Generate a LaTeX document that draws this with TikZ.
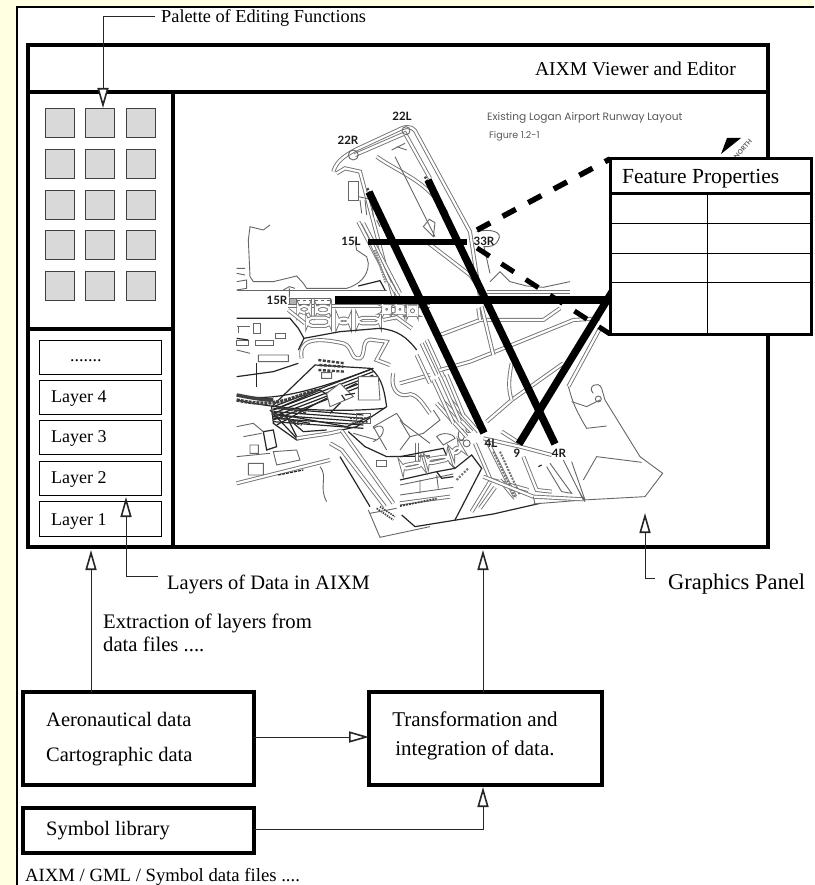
\documentclass[tikz,border=0pt]{standalone}
\usepackage{fontspec}
\setmainfont{Liberation Serif}
\newfontfamily\mapfont{Lato}
\newfontfamily\geofont{Poppins}
\usetikzlibrary{arrows.meta}
\newcommand{\fs}[1]{\fontsize{#1}{#1}\selectfont}
\definecolor{pagey}{HTML}{FFFFE1}
\tikzset{
  frame/.style={draw=black,line width=4pt,fill=white,inner sep=0pt,outer sep=0pt,anchor=north west},
  cell/.style={draw=black!75,line width=1.2pt,fill=black!15,minimum width=29pt,minimum height=29pt,inner sep=0pt,anchor=north west},
  layerbox/.style={draw=black,line width=1pt,fill=white,minimum width=122pt,inner sep=0pt,anchor=north west},
  lbl/.style={anchor=base west,inner sep=0pt,font=\fs{20.5}},
  layertxt/.style={anchor=base west,inner sep=0pt,font=\fs{18}},
  conn/.style={draw=black!85,line width=1pt,-{Triangle[length=20pt,width=11pt,fill=white,line width=1.6pt]}},
  rw/.style={draw=black,line width=7.5pt},
  rwthin/.style={draw=black,line width=5.5pt},
  tw/.style={draw=black!55,line width=.9pt,double=white,double distance=2.2pt},
  thin/.style={draw=black!60,line width=.9pt},
  dk/.style={draw=black!85,line width=1.2pt},
  hatch/.style={draw=black!75,line width=2.4pt},
  maplbl/.style={inner sep=0pt,font=\mapfont\bfseries\fs{11.5},text=black!90},
  z7/.style={shift={(330,100)},x=.3333pt,y=-.3333pt},
  z8/.style={shift={(440,300)},x=.3333pt,y=-.3333pt},
  z3/.style={shift={(230,300)},x=.3333pt,y=-.3333pt},
  z9/.style={shift={(400,400)},x=.3333pt,y=-.3333pt},
  z10/.style={shift={(230,220)},x=.3333pt,y=-.3333pt},
}
\begin{document}
\begin{tikzpicture}[x=1pt,y=-1pt]
\useasboundingbox (0,0) rectangle (814,885);
\fill[pagey] (0,0) rectangle (814,885);
\fill[white] (17,7) rectangle (814,885);
\draw[black,line width=1.8pt] (814,7) -- (17,7) -- (17,885);

% main window
\node[frame,minimum width=740pt,minimum height=502pt] (main) at (28,45) {};
\draw[line width=4pt] (28,92) coordinate (tl) -- (768,92) coordinate (tr);
\draw[line width=4pt] (173,92) -- (173,547);
\draw[line width=4pt] (28,329) -- (173,329);
\node[anchor=base east,inner sep=0pt,font=\fs{19.6}] (title) at (736,76) {AIXM Viewer and Editor};

% MAP ---------------------------------------------------------------
\begin{scope}[z7]
 \draw[tw] (10,215) .. controls (20,180) and (50,165) .. (75,150) -- (215,85) .. controls (240,75) and (255,85) .. (262,105) -- (420,395) -- (450,590);
 \draw[tw] (20,220) -- (45,205) -- (90,215) -- (190,590);
 \draw[tw] (75,165) -- (225,100) -- (300,235);
 \draw[tw] (140,170) .. controls (210,220) and (290,240) .. (350,340);
 \draw[tw] (290,425) -- (420,525) -- (460,580);
 \draw[tw] (130,435) -- (205,590);
 \draw[thin] (195,170) -- (280,340) -- (315,410);
 \draw[thin] (280,380) -- (298,358) -- (315,368) -- (310,410) -- cycle;
 \draw[thin] (55,245) rectangle (85,300);
 \draw[thin] (85,290) -- (130,300) (90,300) -- (95,340) (105,300) -- (110,345) (125,310) -- (130,350) (140,360) -- (150,380);
 \draw[thin] (440,395) .. controls (480,385) and (520,395) .. (505,420) .. controls (495,440) and (480,440) .. (462,440) -- (480,520);
 \draw[thin] (480,545) -- (510,515) -- (540,545) -- (590,558) -- (640,562) -- (720,545);
 \draw[thin] (200,140) -- (230,150) (185,150) -- (225,130);
 \draw[hatch,dash pattern=on 2pt off 1.5pt] (112,265) -- (122,285);
 \draw[hatch,dash pattern=on 2pt off 1.5pt] (285,230) -- (295,250);
 \draw[thin] (70,165) circle [radius=5pt];
 \draw[thin] (228,92) circle [radius=4pt];
 \draw[tw] (470,575) -- (720,575);
\end{scope}

\begin{scope}[z10]
 \draw[thin] (120,15) -- (100,30) -- (60,20) -- (55,60) -- (60,170) -- (70,185) -- (130,185) -- (200,168) -- (220,190) -- (230,205) -- (350,205) .. controls (385,195) and (415,170) .. (415,130) -- (410,110) -- (380,90) -- (375,60);
 \draw[thin] (20,145) -- (45,145) (20,160) -- (45,165) (20,185) -- (50,180) -- (50,205) -- (20,210);
 \draw[thin] (20,210) -- (470,210);
 \draw[thin] (160,210) -- (178,200) -- (195,205) (178,205) -- (178,232);
 \draw[tw] (175,258) -- (600,258);
 \draw[thin] (178,235) rectangle (300,252);
 \draw[thin,dash pattern=on 3pt off 3pt] (200,242) -- (300,242);
 \draw[thin,fill=black!30] (178,235) rectangle (198,252);
 \draw[tw,rounded corners=5pt] (205,258) rectangle (240,278);
 \draw[tw,rounded corners=5pt] (258,258) rectangle (300,280);
 \draw[tw,rounded corners=5pt] (232,293) rectangle (300,318);
 \draw[tw,rounded corners=5pt] (322,296) rectangle (360,310);
 \draw[tw,rounded corners=5pt] (382,294) rectangle (450,310);
 \draw[tw,rounded corners=5pt] (460,258) rectangle (480,278);
 \draw[tw,rounded corners=5pt] (500,258) rectangle (520,278);
 \draw[tw,rounded corners=5pt] (535,260) rectangle (560,285);
 \draw[tw] (460,300) -- (500,292) -- (545,325);
 \draw[tw] (225,310) -- (175,270);
 \draw[dk] (20,295) -- (180,295) -- (205,325) -- (222,355) -- (330,335) -- (450,325) .. controls (500,330) and (530,350) .. (560,390);
 \draw[dk] (205,390) -- (222,355);
 \draw[tw] (400,10) -- (510,220);
 \draw[tw] (385,5) -- (495,215);
 \draw[tw] (420,60) -- (480,190);
 \draw[hatch,draw=black!45,dash pattern=on 1.5pt off 1pt] (435,90) -- (468,190);
 \draw[dk] (385,198) -- (450,182) -- (465,210);
 \draw[thin] (20,320) -- (60,320) (25,320) -- (25,340) (70,310) rectangle (90,340) (135,340) rectangle (165,355) (20,360) rectangle (55,375) (75,360) rectangle (130,375);
 \draw[dk] (20,355) -- (55,360);
\end{scope}

\begin{scope}[z3]
 \draw[dk] (205,190) -- (130,215) -- (20,230);
 \draw[dk] (80,190) -- (80,260);
 \draw[thin] (85,165) rectangle (175,185) (20,150) -- (60,160);
 % serpentine roads around terminals
 \draw[tw] (215,175) .. controls (205,120) and (250,110) .. (340,130) .. controls (370,140) and (360,180) .. (390,175) .. controls (410,165) and (390,110) .. (430,120) -- (470,125) -- (440,180) -- (480,195);
 \draw[tw] (490,220) .. controls (480,260) and (500,290) .. (530,285) .. controls (560,270) and (590,330) .. (600,340);
 \draw[tw] (510,250) -- (600,225);
 \draw[tw] (560,165) -- (600,250);
 \draw[tw] (575,130) -- (620,225) (590,120) -- (640,230);
 % terminal knots
 \draw[dk] (255,195) -- (420,205) .. controls (460,230) and (465,290) .. (470,320) -- (380,380) -- (200,420) -- (130,370) -- (125,320) -- cycle;
 \foreach \d in {0,10,20,30,40}{
   \draw[dk] (130,320+\d) -- (430,205+\d);
   \draw[dk] (130,325+\d) -- (400,345+\d);
 }
 \draw[dk] (20,285) .. controls (120,310) and (260,270) .. (430,205);
 \draw[dk] (20,300) .. controls (130,325) and (300,340) .. (465,325);
 \draw[dk] (130,340) -- (350,380) -- (420,350);
 \draw[dk] (130,330) -- (270,270) -- (330,310) -- (300,340);
 \draw[dk] (140,375) -- (260,310) -- (380,250);
 \draw[dk] (150,335) -- (220,395) -- (290,390);
 \draw[dk] (170,350) -- (200,410) (130,350) -- (240,370);
 \draw[dk] (120,330) -- (205,420);
 \draw[hatch,line width=3.5pt] (20,285) .. controls (70,295) and (100,300) .. (130,300);
 \draw[hatch,line width=3.5pt,dash pattern=on 3pt off 1pt] (20,300) .. controls (70,310) and (110,315) .. (170,300) -- (260,270);
 \draw[hatch,dash pattern=on 3pt off 1.5pt] (125,340) -- (215,375) (140,320) -- (230,340);
 \draw[hatch,dash pattern=on 3pt off 1.5pt] (265,180) -- (345,190) (268,195) -- (340,200) (265,210) -- (345,215);
 \draw[hatch,dash pattern=on 2pt off 1.5pt,line width=1.8pt] (360,355) -- (420,355) (365,370) -- (415,365);
 \draw[thin,fill=white] (275,218) rectangle (305,235) (290,280) -- (330,250) -- (370,290) -- (300,320) -- cycle (385,230) -- (445,230) -- (450,300) -- (385,300) -- cycle;
 \draw[dk] (335,285) -- (345,300) (345,285) -- (375,280);
 % lower
 \draw[dk] (100,395) -- (130,390) -- (140,440) -- (110,450) -- cycle;
 \draw[thin] (20,380) -- (70,370) -- (100,395) (40,410) -- (95,400) (60,435) rectangle (85,460) (20,470) -- (120,460);
 \draw[thin] (130,455) -- (200,450) -- (210,480) -- (140,495) -- cycle;
 \draw[thin] (55,490) rectangle (100,525) (30,545) -- (120,525);
 \draw[tw] (20,550) -- (300,480);
 \draw[dk,dash pattern=on 3pt off 1pt] (145,525) -- (220,510);
 \draw[thin] (270,500) .. controls (295,530) and (265,560) .. (290,605);
 \draw[tw] (200,415) -- (300,400) -- (335,392);
 \draw[tw] (300,430) -- (335,450) -- (465,620);
 \draw[tw] (335,392) -- (490,610);
 \draw[dk] (330,470) -- (420,620);
 \draw[thin] (415,630) -- (450,712) -- (600,680);
 \draw[hatch,line width=1.6pt,dash pattern=on 1.5pt off 1pt] (440,625) -- (490,660) (450,620) -- (495,650);
 \draw[thin] (420,640) -- (500,625);
 \draw[dk] (355,395) -- (405,440) -- (470,470) -- (600,468);
 \draw[thin] (500,340) -- (520,370) -- (600,430) (500,340) -- (430,380) -- (470,450) (540,410) -- (510,450);
 \draw[thin] (430,385) .. controls (470,360) and (470,410) .. (430,425) (370,400) -- (440,420);
 \draw[thin] (380,340) rectangle (420,370);
 \draw[tw] (560,430) -- (560,500);
 \draw[thin] (440,480) rectangle (470,500);
\end{scope}

\begin{scope}[z9]
 \draw[dk] (0,170) -- (130,145) -- (150,190) -- (165,205) -- (215,165) -- (245,205) -- (165,360);
 \draw[dk] (0,240) -- (110,215) -- (165,205);
 \draw[tw,rounded corners=4pt] (80,178) -- (145,168) -- (148,178) -- (84,192) -- cycle;
 \draw[tw,rounded corners=4pt] (5,197) -- (65,186) -- (68,196) -- (8,208) -- cycle;
 \draw[tw,rounded corners=4pt] (155,152) -- (180,138) -- (186,148) -- (160,165) -- cycle;
 \draw[thin,rounded corners=4pt] (175,88) rectangle (193,122);
 \draw[thin] (205,90) circle [radius=2.5pt] (200,130) circle [radius=3.5pt];
 \draw[thin] (0,60) -- (30,110) -- (70,100) -- (120,60) -- (100,30);
 \draw[thin] (110,110) .. controls (125,95) and (160,100) .. (165,115) -- (130,135) -- cycle;
 \draw[tw] (110,10) -- (200,110);
 \draw[tw] (130,5) -- (215,95);
 \draw[tw] (150,0) -- (235,95);
 \draw[thin] (0,255) -- (160,222) (0,285) -- (160,262) (60,240) -- (60,280) (110,225) -- (115,265);
 \draw[tw] (0,310) -- (150,290);
 \draw[hatch,line width=1.8pt,dash pattern=on 2pt off 1pt] (0,318) -- (110,296);
 \draw[dk] (110,215) -- (125,235) -- (160,230);
 \draw[hatch,draw=black!55,line width=2pt,dash pattern=on 2pt off 1.5pt] (170,240) -- (205,205);
 \draw[dk] (45,380) -- (280,342) -- (420,310);
 \draw[dk] (5,345) -- (45,380);
 \draw[tw] (215,335) -- (270,245);
 \draw[tw] (240,325) -- (285,262);
 \draw[tw] (270,238) -- (385,270);
 \draw[tw] (300,240) -- (345,295);
 \draw[tw] (260,120) -- (345,290);
 \draw[tw] (225,130) -- (270,235);
 \draw[hatch,draw=black!55,line width=2pt,dash pattern=on 2pt off 1.2pt] (280,155) -- (345,290) (300,155) -- (360,285);
\end{scope}

\begin{scope}[z8]
 \draw[tw] (0,105) -- (120,60) -- (310,60) -- (360,25);
 \draw[tw] (0,210) -- (90,185) -- (240,125) -- (400,60) -- (480,55);
 \draw[tw] (140,365) -- (215,300) -- (370,190);
 \draw[tw] (125,20) -- (160,165) (120,60) -- (115,25);
 \draw[tw] (215,190) .. controls (205,240) and (205,270) .. (215,300);
 \draw[tw] (385,260) -- (480,85);
 \draw[tw] (0,230) -- (60,365) (20,225) -- (70,345) (-20,240) -- (40,370);
 \draw[tw] (130,415) -- (240,440) -- (335,465);
 \draw[tw] (185,395) -- (240,430);
 \draw[thin] (385,260) .. controls (395,290) and (395,310) .. (440,385) -- (500,378);
 \draw[thin] (395,305) -- (440,320) -- (480,300);
 \draw[thin] (460,280) .. controls (440,260) and (475,240) .. (485,265) -- (495,300) -- (600,470) -- (668,520) -- (615,590) -- (430,600);
 \draw[thin] (475,297) circle [radius=3pt];
 \draw[thin] (430,540) -- (470,470) -- (605,487);
 \draw[thin] (280,612) -- (430,600);
 \draw[tw] (130,530) -- (280,590) -- (430,598);
 \draw[tw] (250,470) -- (290,570) -- (335,575);
 \draw[thin] (330,490) -- (395,580) -- (365,575) -- (320,500) (370,480) -- (430,600) (395,485) -- (435,600) (415,570) -- (435,605);
 \draw[dk] (295,500) -- (305,495);
 \draw[thin] (280,590) -- (285,612);
\end{scope}

% runways
\coordinate (r1a) at (369,192); \coordinate (r1b) at (484,433);
\coordinate (r2a) at (428,180); \coordinate (r2b) at (555,444);
\coordinate (r3a) at (368,242); \coordinate (r3b) at (467,242);
\coordinate (r4a) at (335,300); \coordinate (r4b) at (612,300);
\coordinate (r5a) at (519,444); \coordinate (r5b) at (612,292);
\draw[rw] (r1a) -- (r1b);
\draw[rw] (r2a) -- (r2b);
\draw[rwthin] (r3a) -- (r3b);
\draw[rw] (r4a) -- (r4b);
\draw[rw] (r5a) -- (r5b);

\node[maplbl] (l22l) at (402,116) {22L};
\node[maplbl] (l22r) at (348,140) {22R};
\node[maplbl] (l15l) at (351,241) {15L};
\node[maplbl] (l33r) at (484,241) {33R};
\node[maplbl] (l15r) at (277,300) {15R};
\node[maplbl] (l4l) at (491,443) {4L};
\node[maplbl] (l9) at (517,453) {9};
\node[maplbl] (l4r) at (559,453) {4R};
\node[anchor=base west,inner sep=0pt,font=\geofont\fs{10.6},text=black!65] (mt) at (487,121) {Existing Logan Airport Runway Layout};
\node[anchor=base west,inner sep=0pt,font=\geofont\fs{9.5},text=black!65] (mf) at (489,139) {Figure 1.2-1};
\fill (721,154) -- (727,138) -- (741,138) -- cycle;
\node[rotate=48,inner sep=0pt,font=\mapfont\bfseries\fs{6.5},text=black!65] (north) at (743,149) {NORTH};

% Feature Properties
\coordinate (d1) at (477,230); \coordinate (d2) at (477,248);
\node[frame,line width=3pt,minimum width=201pt,minimum height=175pt] (fp) at (610,159) {};
\draw[black,line width=5.5pt,dash pattern=on 15pt off 14pt] (d1) -- (fp.north west);
\draw[black,line width=5pt,dash pattern=on 15pt off 14pt] (d2) -- (fp.south west);
\fill[white] (611.5,160.5) rectangle (809.5,332.5);
\draw[black,line width=3pt] (610,159) rectangle (811,334);
\draw[black,line width=3pt] (610,194) -- (811,194);
\draw[black,line width=1pt] (610,224) -- (811,224) (610,253) -- (811,253) (610,282) -- (811,282) (707,194) -- (707,334);
\node[anchor=base west,inner sep=0pt,font=\fs{21.5}] (fpt) at (622,184) {Feature Properties};

% palette cells
\foreach \r/\y in {1/108,2/149,3/190,4/230,5/271}{
  \foreach \c/\x in {1/45,2/85,3/126}{
    \node[cell] (p\r\c) at (\x,\y) {};
  }
}
% layers
\node[layerbox,minimum height=34pt] (ld) at (39,340) {};
\node[layerbox,minimum height=34pt] (l4) at (39,380) {};
\node[layerbox,minimum height=34pt] (l3) at (39,420) {};
\node[layerbox,minimum height=34pt] (l2) at (39,461) {};
\node[layerbox,minimum height=35pt] (l1) at (39,501) {};
\node[layertxt] (tld) at (70,361) {.......};
\node[layertxt] (tl4) at (51,402) {Layer 4};
\node[layertxt] (tl3) at (51,442) {Layer 3};
\node[layertxt] (tl2) at (51,483) {Layer 2};
\node[layertxt] (tl1) at (51,525) {Layer 1};

% lower boxes
\node[frame,minimum width=231pt,minimum height=93pt] (aero) at (23,692) {};
\node[frame,minimum width=231pt,minimum height=45pt] (sym) at (23,808) {};
\node[frame,minimum width=233pt,minimum height=93pt] (trans) at (369,692) {};
\node[lbl] (ta1) at (46,726) {Aeronautical data};
\node[lbl] (ta2) at (46,761) {Cartographic data};
\node[lbl] (ts) at (46,835) {Symbol library};
\node[lbl,anchor=base,font=\fs{21}] (tt1) at (475,726) {Transformation and};
\node[lbl,anchor=base,font=\fs{21}] (tt2) at (475,755) {integration of data.};
\node[lbl,font=\fs{18.7}] (tf) at (25,881) {AIXM / GML / Symbol data files ....};
\node[lbl,font=\fs{20.7}] (te1) at (103,628) {Extraction of layers from};
\node[lbl,font=\fs{20.7}] (te2) at (103,651) {data files ....};
\node[lbl,font=\fs{18.3}] (tpal) at (161,23) {Palette of Editing Functions};
\node[lbl] (tlay) at (167,589) {Layers of Data in AIXM};
\node[lbl,font=\fs{22.5}] (tgfx) at (668,589) {Graphics Panel};

% connectors
\coordinate (ptip) at (103,108);
\coordinate (ltip) at (126,497);
\coordinate (gtip) at (645,513);
\draw[conn] (tpal.west |- 0,17) ++(-6,0) -- (103,17) -- (ptip);
\draw[conn] (tlay.west |- 0,576) ++(-9,0) -- (126,576) -- (ltip);
\draw[conn] (tgfx.west |- 0,578) ++(-13,0) -- (645,578) -- (gtip);
\coordinate (atip) at (91,550);
\coordinate (ttip) at (483,550);
\draw[conn] (aero.north -| atip) -- (atip);
\draw[conn] (trans.north -| ttip) -- (ttip);
\draw[conn] (aero.east |- 0,737) -- (trans.west |- 0,737);
\coordinate (stip) at (483,787);
\draw[conn] (sym.east |- 0,829) -- (483,829) -- (stip);
\end{tikzpicture}
\end{document}
